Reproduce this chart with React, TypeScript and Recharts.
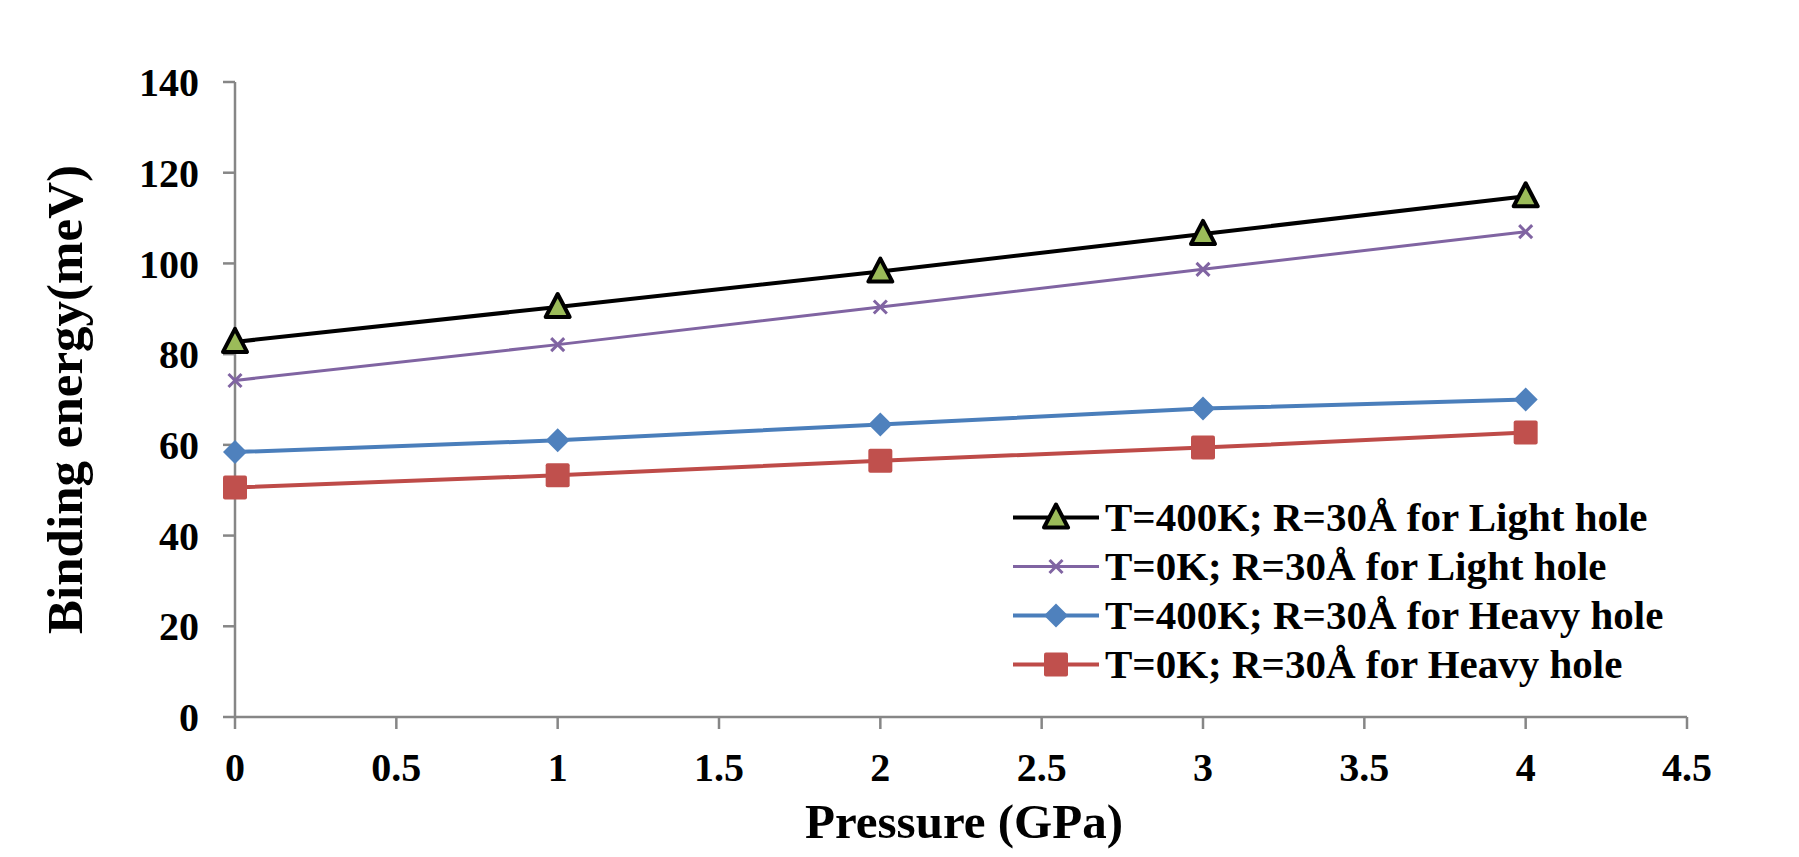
import { LineChart, Line, XAxis, YAxis, Legend } from 'recharts'

const FONT = "'Times New Roman', 'Liberation Serif', serif"
const AXIS_GREY = '#868686'

// pressure (GPa) on x, binding energy (meV) on y
const pressure = [0, 1, 2, 3, 4]
const lightHole400K = [82.7, 90.4, 98.2, 106.5, 114.8]
const lightHole0K = [74.2, 82.1, 90.4, 98.7, 107.0]
const heavyHole400K = [58.4, 61.0, 64.5, 68.0, 70.0]
const heavyHole0K = [50.6, 53.3, 56.5, 59.4, 62.7]

const xTicks = [0, 0.5, 1, 1.5, 2, 2.5, 3, 3.5, 4, 4.5]
const yTicks = [0, 20, 40, 60, 80, 100, 120, 140]

const SERIES = [
  { key: 'lh400', name: 'T=400K; R=30Å for Light hole', values: lightHole400K, stroke: '#000000', width: 4, marker: 'triangle' },
  { key: 'lh0', name: 'T=0K; R=30Å for Light hole', values: lightHole0K, stroke: '#8064A2', width: 3, marker: 'cross' },
  { key: 'hh400', name: 'T=400K; R=30Å for Heavy hole', values: heavyHole400K, stroke: '#4A7EBB', width: 4, marker: 'diamond' },
  { key: 'hh0', name: 'T=0K; R=30Å for Heavy hole', values: heavyHole0K, stroke: '#BE4B48', width: 4, marker: 'square' },
]

const data = pressure.map((p, i) => {
  const row: Record<string, number> = { pressure: p }
  SERIES.forEach(s => { row[s.key] = s.values[i] })
  return row
})

function Marker({ type, cx, cy }: { type: string; cx: number; cy: number }) {
  if (type === 'triangle') {
    return (
      <path
        d={`M${cx},${cy - 13} L${cx + 12},${cy + 10} L${cx - 12},${cy + 10} Z`}
        fill="#9BBB59" stroke="#000" strokeWidth={4} strokeLinejoin="round"
      />
    )
  }
  if (type === 'cross') {
    return (
      <g stroke="#8064A2" strokeWidth={3}>
        <line x1={cx - 6.5} y1={cy - 6.5} x2={cx + 6.5} y2={cy + 6.5} />
        <line x1={cx - 6.5} y1={cy + 6.5} x2={cx + 6.5} y2={cy - 6.5} />
      </g>
    )
  }
  if (type === 'diamond') {
    return <path d={`M${cx},${cy - 12} L${cx + 12},${cy} L${cx},${cy + 12} L${cx - 12},${cy} Z`} fill="#4F81BD" />
  }
  return <rect x={cx - 12} y={cy - 12} width={24} height={24} rx={2} fill="#C0504D" />
}

function LegendBox() {
  return (
    <div style={{ fontFamily: FONT, fontWeight: 'bold', fontSize: 41, color: '#000' }}>
      {SERIES.map(s => (
        <div key={s.key} style={{ display: 'flex', alignItems: 'center', height: 49, whiteSpace: 'nowrap' }}>
          <svg width={92} height={49} style={{ flexShrink: 0 }}>
            <line x1={0} y1={24.5} x2={86} y2={24.5} stroke={s.stroke} strokeWidth={s.width} />
            <Marker type={s.marker} cx={43} cy={24.5} />
          </svg>
          <span style={{ lineHeight: '49px' }}>{s.name}</span>
        </div>
      ))}
    </div>
  )
}

const tickStyle = { fill: '#000', fontSize: 40, fontWeight: 'bold', fontFamily: FONT }

export default function App() {
  return (
    <div style={{ position: 'absolute', left: 0, top: 0, width: 1799, height: 857, background: '#fff' }}>
      <LineChart width={1799} height={857} data={data} margin={{ top: 82, right: 112, bottom: 0, left: 0 }}>
        <XAxis
          type="number"
          dataKey="pressure"
          domain={[0, 4.5]}
          ticks={xTicks}
          interval={0}
          height={140}
          tickSize={12}
          tickMargin={24}
          stroke={AXIS_GREY}
          axisLine={{ stroke: AXIS_GREY, strokeWidth: 2.5 }}
          tickLine={{ stroke: AXIS_GREY, strokeWidth: 2.5 }}
          tick={tickStyle}
          label={(props: any) => {
            const vb = props.viewBox
            return (
              <text x={vb.x + vb.width / 2 + 3} y={vb.y + 121} textAnchor="middle"
                fontFamily={FONT} fontWeight="bold" fontSize={49} fill="#000">
                Pressure (GPa)
              </text>
            )
          }}
        />
        <YAxis
          type="number"
          domain={[0, 140]}
          ticks={yTicks}
          interval={0}
          width={235}
          tickSize={12}
          tickMargin={24}
          stroke={AXIS_GREY}
          axisLine={{ stroke: AXIS_GREY, strokeWidth: 2.5 }}
          tickLine={{ stroke: AXIS_GREY, strokeWidth: 2.5 }}
          tick={tickStyle}
          label={(props: any) => {
            const vb = props.viewBox
            const x = vb.x + 82
            const y = vb.y + vb.height / 2
            return (
              <text x={x} y={y} transform={`rotate(-90 ${x} ${y})`} textAnchor="middle"
                fontFamily={FONT} fontWeight="bold" fontSize={51} fill="#000">
                Binding energy(meV)
              </text>
            )
          }}
        />
        <Legend
          layout="vertical"
          align="center"
          verticalAlign="middle"
          content={() => <LegendBox />}
          wrapperStyle={{ position: 'absolute', left: 1013, top: 493, width: 760 }}
        />
        {SERIES.map(s => (
          <Line
            key={s.key}
            dataKey={s.key}
            name={s.name}
            stroke={s.stroke}
            strokeWidth={s.width}
            isAnimationActive={false}
            dot={(p: any) => <Marker key={`${s.key}-${p.index}`} type={s.marker} cx={p.cx} cy={p.cy} />}
            activeDot={false}
          />
        ))}
      </LineChart>
    </div>
  )
}
